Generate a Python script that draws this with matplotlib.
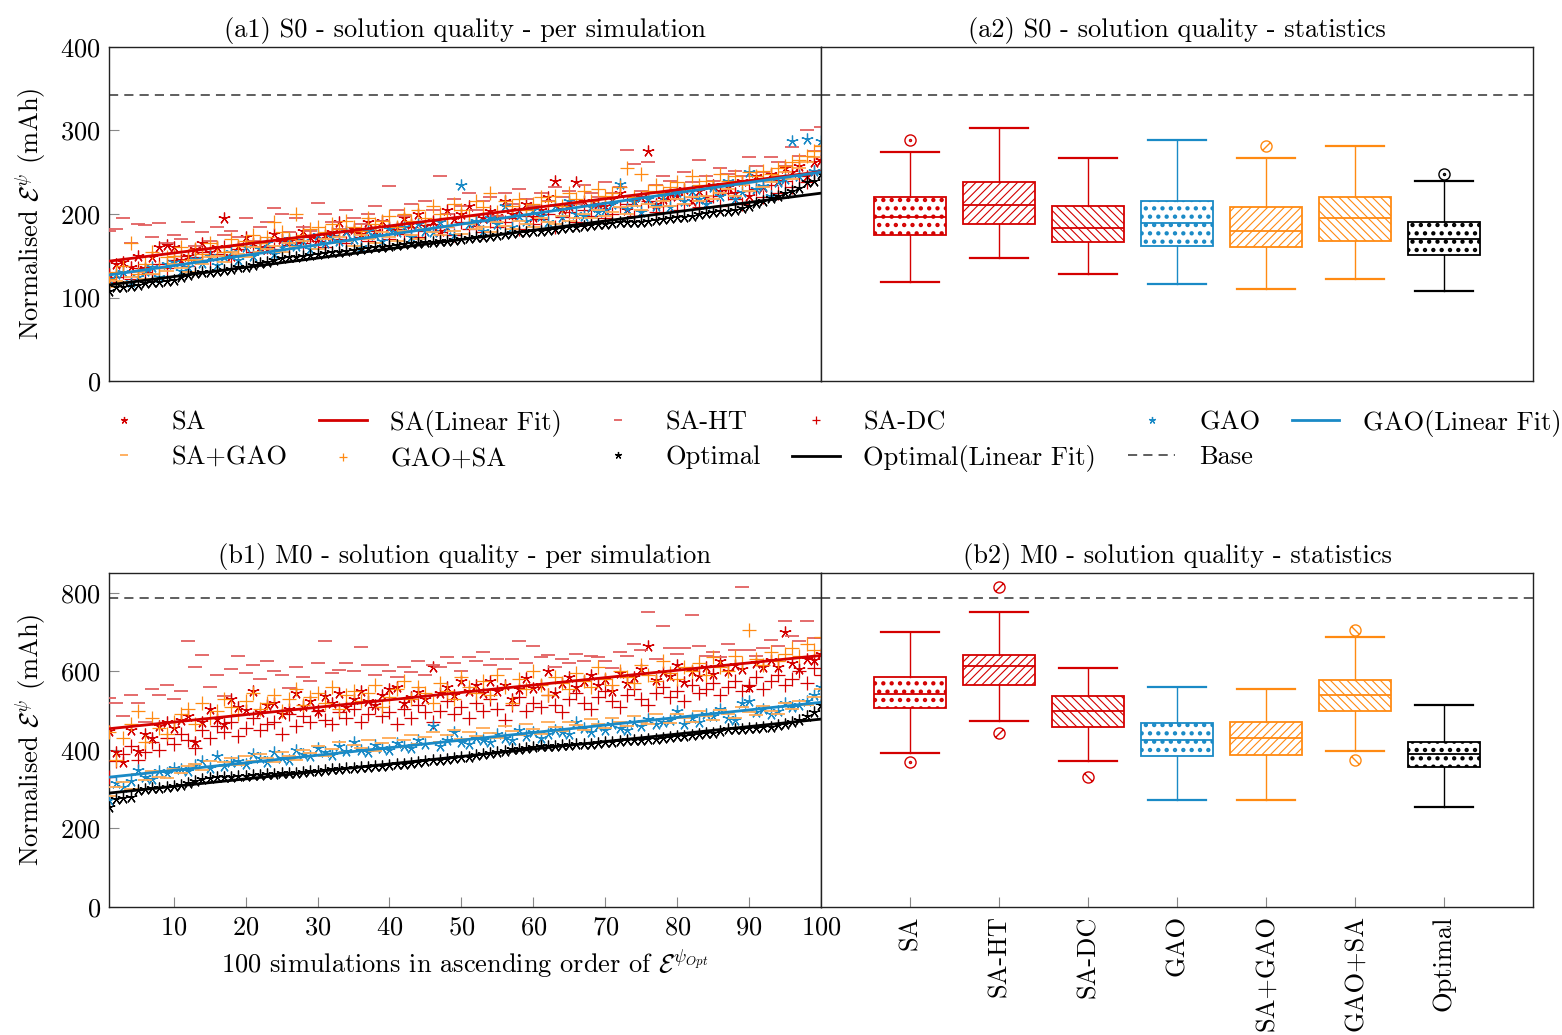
import numpy as np
import matplotlib
matplotlib.use("Agg")
import matplotlib.pyplot as plt
from matplotlib.path import Path

plt.rcParams['font.family'] = 'serif'
plt.rcParams['font.serif'] = ['cmr10']
plt.rcParams['mathtext.fontset'] = 'cm'
plt.rcParams['axes.formatter.use_mathtext'] = True
plt.rcParams['hatch.linewidth'] = 0.8

# ---------------- data ----------------
sim_idx = list(range(1, 101))

s0_sa = [128,140,142,137,150,135,148,160,163,161,145,150,158,165,155,160,195,150,162,172,
         165,160,158,176,170,168,165,180,172,170,175,178,190,180,182,176,190,180,192,185,
         184,195,188,200,186,192,180,205,194,200,210,190,195,204,198,215,200,205,212,196,
         205,220,240,206,210,238,215,208,212,210,218,225,205,215,220,275,212,218,225,222,
         230,215,228,220,235,228,232,225,240,222,245,232,248,240,255,250,258,245,262,265]
s0_sa_ht = [180,182,195,165,188,187,172,189,165,175,170,190,162,178,168,185,175,180,172,195,
            168,185,190,207,200,178,195,185,180,213,200,190,182,205,195,188,200,210,192,233,
            205,198,212,190,215,205,246,200,218,210,225,205,215,220,198,225,212,230,218,210,
            225,215,232,220,228,212,235,225,220,238,225,232,277,260,228,262,235,245,240,228,
            250,238,265,245,240,255,248,252,245,268,258,250,268,262,258,280,270,300,275,304]
s0_sa_dc = [118,125,130,122,135,130,128,140,135,145,150,138,148,155,145,152,160,150,158,162,
            155,165,160,158,168,163,170,165,172,168,160,175,170,165,178,172,168,180,175,170,
            182,176,185,172,180,188,178,184,175,190,182,186,178,192,185,190,195,182,198,188,
            194,200,185,196,202,190,205,198,210,195,200,208,212,198,205,215,202,210,218,205,
            212,220,208,215,222,210,225,218,212,228,230,220,235,225,240,232,245,238,250,268]
s0_gao = [122,128,130,118,125,132,137,124,140,143,132,137,146,141,150,139,148,155,145,160,
          150,158,165,152,160,170,162,168,158,175,165,172,168,178,170,160,180,175,168,182,
          178,185,172,188,180,178,190,185,175,235,188,192,180,195,188,210,185,198,192,205,
          198,190,210,196,215,200,198,208,202,205,212,236,206,214,202,218,210,222,208,226,
          215,228,218,212,232,222,240,218,226,250,230,234,222,238,242,288,246,290,252,288]
s0_sa_gao = [112,120,118,125,130,122,128,135,132,140,135,130,145,140,148,150,142,155,152,148,
             160,155,158,162,155,165,160,168,162,158,170,165,172,168,162,175,170,165,178,172,
             168,180,175,170,182,178,175,185,180,176,188,182,185,178,190,186,182,192,188,185,
             195,190,188,198,192,195,200,195,205,198,202,208,200,210,205,212,208,215,210,218,
             212,220,215,222,218,225,230,222,235,228,240,232,238,245,250,242,255,262,268,282]
s0_gao_sa = [122,130,138,165,128,140,155,135,148,150,160,145,158,152,165,160,155,170,162,168,
             175,165,172,190,178,170,200,175,182,185,178,188,182,192,185,180,195,188,192,198,
             185,200,192,205,195,210,200,195,212,205,198,215,208,225,202,215,210,218,205,212,
             220,215,222,210,225,218,228,215,230,222,225,232,255,220,248,228,235,225,232,238,
             230,245,235,240,232,248,240,245,238,250,245,252,248,255,258,262,265,270,275,282]
s0_opt = [108,112,113,114,115,117,118,119,120,121,124,127,129,130,131,132,133,134,136,137,
          139,141,143,145,147,148,149,150,151,152,153,154,155,156,157,158,159,160,161,162,
          163,164,165,165,166,167,168,168,169,170,171,172,173,174,175,176,177,178,179,180,
          180,181,182,183,184,185,186,187,188,188,189,190,190,191,191,192,193,194,195,196,
          197,198,200,201,202,203,204,205,207,209,213,216,219,222,225,228,231,238,240,248]
s0_base = 342

m0_sa = [447,395,370,450,398,440,430,460,470,455,475,485,420,470,505,478,465,530,510,502,
         550,495,515,520,490,505,545,512,525,500,538,520,545,510,530,550,525,515,540,555,
         560,520,535,548,530,610,545,560,540,575,550,565,545,575,550,565,530,555,582,558,
         565,600,545,570,585,560,575,590,565,580,550,595,570,585,605,665,578,598,588,615,
         572,600,588,610,592,625,600,615,605,560,622,610,628,612,700,622,605,632,628,645]
m0_sa_ht = [532,520,485,540,519,472,555,540,566,530,549,676,611,642,560,590,536,605,640,595,
            616,580,625,600,590,557,610,585,574,620,678,595,602,622,600,661,615,590,615,600,
            585,610,598,625,590,615,610,636,620,600,636,625,648,615,630,605,632,676,620,665,
            635,642,610,631,620,645,625,640,635,625,608,650,640,670,655,750,630,716,660,645,
            659,743,665,640,650,635,670,655,814,654,640,660,680,665,729,690,676,729,684,684]
m0_sa_dc = [332,372,390,410,375,395,420,400,430,415,440,425,405,450,430,460,445,470,435,455,
            480,450,465,470,440,490,460,485,470,500,475,465,495,480,505,470,490,510,485,495,
            465,505,480,515,495,470,500,525,490,510,480,520,500,530,505,475,515,535,500,520,
            510,540,515,495,530,545,520,505,535,550,525,510,540,555,530,515,545,560,535,550,
            525,565,545,555,570,540,560,575,550,565,585,555,575,590,565,580,600,570,608,590]
m0_gao = [273,315,305,320,349,330,325,345,340,355,350,345,362,372,355,385,360,370,372,365,
          390,378,370,395,380,375,400,390,385,405,395,388,410,398,420,400,395,412,405,400,
          418,410,405,425,415,460,410,425,445,420,415,430,425,420,440,430,425,450,435,445,
          430,440,450,445,440,470,455,445,460,450,465,455,450,470,460,478,465,470,475,500,
          465,480,470,490,485,505,480,475,520,525,495,505,490,500,520,510,515,525,540,560]
m0_sa_gao = [282,305,318,300,338,322,345,332,328,350,342,358,365,348,372,360,368,380,362,385,
             372,390,378,368,395,385,375,400,392,410,385,402,420,395,412,405,425,398,418,430,
             408,425,438,415,432,445,420,438,450,428,445,435,455,442,430,460,448,438,465,452,
             440,470,458,448,472,462,450,478,465,455,482,470,460,485,472,465,490,478,468,492,
             482,472,498,485,475,502,490,480,508,495,488,512,500,492,518,505,525,515,535,556]
m0_gao_sa = [445,374,430,465,500,420,480,455,440,470,490,505,465,520,480,500,530,510,490,525,
             545,505,520,540,500,530,555,515,535,545,520,560,505,540,550,525,545,565,510,535,
             555,575,530,560,545,520,570,550,530,585,560,545,575,540,590,560,520,580,555,600,
             565,540,585,570,555,595,575,560,610,580,565,600,585,570,615,590,575,625,595,580,
             610,600,620,590,635,610,600,640,620,705,630,615,650,625,645,660,640,670,655,687]
m0_opt = [254,275,278,280,298,300,302,303,305,307,310,315,320,325,328,330,331,332,333,334,
          335,336,338,339,340,341,342,344,345,347,348,350,351,353,354,356,357,359,360,362,
          363,365,367,369,371,373,375,377,379,381,383,386,389,392,395,398,401,403,405,408,
          409,410,411,412,413,414,415,416,418,420,421,422,424,425,426,427,428,430,432,434,
          436,438,440,442,443,447,452,453,454,455,456,457,459,462,465,470,475,485,495,515]
m0_base = 786

# box-plot statistics (whislo, q1, med, q3, whishi) and outliers
box_labels = ["SA", "SA-HT", "SA-DC", "GAO", "SA+GAO", "GAO+SA", "Optimal"]
s0_whislo = [118, 147, 128, 116, 110, 122, 108]
s0_q1 = [175, 188, 167, 162, 160, 168, 151]
s0_med = [197, 211, 183, 189, 180, 195, 170]
s0_q3 = [220, 238, 210, 215, 208, 220, 190]
s0_whishi = [274, 303, 267, 289, 267, 281, 239]
s0_fliers = [[289], [], [], [], [282], [], [248]]

m0_whislo = [392, 473, 371, 273, 273, 396, 255]
m0_q1 = [506, 566, 457, 385, 386, 500, 356]
m0_med = [541, 613, 500, 426, 429, 539, 389]
m0_q3 = [586, 641, 538, 469, 472, 577, 421]
m0_whishi = [699, 750, 608, 560, 556, 687, 515]
m0_fliers = [[369], [814, 442], [332], [], [], [704, 374], []]

# ---------------- styles ----------------
RED = '#d40000'
RED_L = '#e26060'
BLUE = '#1a8ac6'
ORANGE = '#ff8a12'
ORANGE_L = '#ffaa55'
STAR = (5, 2, 0)

box_colors = [RED, RED, RED, BLUE, ORANGE, ORANGE, 'black']
box_hatch = ['..', '////', '\\\\\\\\', '..', '////', '\\\\\\\\', '..']

fig = plt.figure(figsize=(15.62, 10.35), dpi=100)
W, H = 1562.0, 1035.0
def rect(x0, y0, x1, y1):
    return [x0 / W, 1 - y1 / H, (x1 - x0) / W, (y1 - y0) / H]

ax_a1 = fig.add_axes(rect(109, 47, 821, 381))
ax_a2 = fig.add_axes(rect(821, 47, 1533, 381))
ax_b1 = fig.add_axes(rect(109, 573, 821, 907))
ax_b2 = fig.add_axes(rect(821, 573, 1533, 907))

FS = 19
ylab = r'Normalised $\mathcal{E}^{\psi}$ (mAh)'

def scatter_panel(ax, sa, saht, sadc, gao, sagao, gaosa, opt, base, ylim, yticks):
    x = np.array(sim_idx)
    ms = 8.5
    ax.plot(x, sa, ls='none', marker=STAR, ms=ms, mew=0.9, color=RED, label='SA', zorder=3)
    c = np.polyfit(x, sa, 1)
    ax.plot([x[0], x[-1]], np.polyval(c, [x[0], x[-1]]), color=RED, lw=2.0, label='SA(Linear Fit)', zorder=5)
    ax.plot(x, saht, ls='none', marker='_', ms=ms + 1, mew=1.3, color=RED_L, label='SA-HT', zorder=3)
    ax.plot(x, sadc, ls='none', marker='+', ms=ms + 1, mew=0.9, color=RED, label='SA-DC', zorder=3)
    ax.plot(x, gao, ls='none', marker=STAR, ms=ms, mew=0.9, color=BLUE, label='GAO', zorder=3)
    c = np.polyfit(x, gao, 1)
    ax.plot([x[0], x[-1]], np.polyval(c, [x[0], x[-1]]), color=BLUE, lw=2.0, label='GAO(Linear Fit)', zorder=5)
    ax.plot(x, sagao, ls='none', marker='_', ms=ms + 1, mew=1.3, color=ORANGE_L, label='SA+GAO', zorder=3)
    ax.plot(x, gaosa, ls='none', marker='+', ms=ms + 1, mew=0.9, color=ORANGE, label='GAO+SA', zorder=3)
    ax.plot(x, opt, ls='none', marker=STAR, ms=ms, mew=0.9, color='black', label='Optimal', zorder=4)
    c = np.polyfit(x, opt, 1)
    ax.plot([x[0], x[-1]], np.polyval(c, [x[0], x[-1]]), color='black', lw=2.0, label='Optimal(Linear Fit)', zorder=5)
    ax.axhline(base, color='#333333', lw=1.1, ls=(0, (6, 4)), label='Base', zorder=2)
    ax.set_xlim(1, 100)
    ax.set_ylim(*ylim)
    ax.set_yticks(yticks)
    ax.set_ylabel(ylab, fontsize=FS, labelpad=9)

def circ_marker(kind):
    circle = Path.unit_circle()
    if kind == '..':
        inner = Path(Path.unit_circle().vertices * 0.18, Path.unit_circle().codes)
    elif kind.startswith('/'):
        inner = Path([[-0.7, -0.7], [0.7, 0.7]], [Path.MOVETO, Path.LINETO])
    else:
        inner = Path([[-0.7, 0.7], [0.7, -0.7]], [Path.MOVETO, Path.LINETO])
    return Path.make_compound_path(circle, inner)

def box_panel(ax, whislo, q1, med, q3, whishi, fliers, base, ylim):
    stats = []
    for i in range(len(box_labels)):
        stats.append(dict(label=box_labels[i], whislo=whislo[i], q1=q1[i], med=med[i],
                          q3=q3[i], whishi=whishi[i], fliers=[]))
    for i, st in enumerate(stats):
        col = box_colors[i]
        res = ax.bxp([st], positions=[i + 1], widths=0.8, capwidths=0.66, patch_artist=True,
                     showfliers=False,
                     boxprops=dict(facecolor='white', edgecolor=col, linewidth=1.3, hatch=box_hatch[i]),
                     medianprops=dict(color=col, linewidth=1.3),
                     whiskerprops=dict(color=col, linewidth=1.0),
                     capprops=dict(color=col, linewidth=1.6))
        box = res['boxes'][0]
        if hasattr(box, 'set_hatch_linewidth'):
            box.set_hatch_linewidth(1.9 if box_hatch[i] == '..' else 0.8)
        if fliers[i]:
            ax.plot([i + 1] * len(fliers[i]), fliers[i], ls='none', marker=circ_marker(box_hatch[i]),
                    ms=8, mew=1.0, mfc='none', mec=col)
    ax.axhline(base, color='#333333', lw=1.1, ls=(0, (6, 4)), zorder=2)
    ax.set_xlim(0, 8)
    ax.set_ylim(*ylim)
    ax.set_xticks(range(1, len(box_labels) + 1))

scatter_panel(ax_a1, s0_sa, s0_sa_ht, s0_sa_dc, s0_gao, s0_sa_gao, s0_gao_sa, s0_opt, s0_base,
              (0, 400), [0, 100, 200, 300, 400])
scatter_panel(ax_b1, m0_sa, m0_sa_ht, m0_sa_dc, m0_gao, m0_sa_gao, m0_gao_sa, m0_opt, m0_base,
              (0, 850), [0, 200, 400, 600, 800])
box_panel(ax_a2, s0_whislo, s0_q1, s0_med, s0_q3, s0_whishi, s0_fliers, s0_base, (0, 400))
box_panel(ax_b2, m0_whislo, m0_q1, m0_med, m0_q3, m0_whishi, m0_fliers, m0_base, (0, 850))

for ax in (ax_a1, ax_a2, ax_b1, ax_b2):
    ax.tick_params(direction='in', length=7, width=0.8, color='#888888', labelsize=FS, pad=6)
    for s in ax.spines.values():
        s.set_color('#222222')
        s.set_linewidth(1.0)

ax_a1.tick_params(axis='x', bottom=False, labelbottom=False)
ax_a2.tick_params(axis='x', bottom=False, labelbottom=False)
ax_a2.tick_params(axis='y', left=False, labelleft=False)
ax_b2.tick_params(axis='y', left=False, labelleft=False)
ax_b1.set_xticks([10, 20, 30, 40, 50, 60, 70, 80, 90, 100])
ax_b2.set_xticklabels(box_labels, rotation=90)
ax_b1.set_xlabel(r'100 simulations in ascending order of $\mathcal{E}^{\psi_{Opt}}$', fontsize=FS, labelpad=6)

ax_a1.set_title('(a1) S0 - solution quality - per simulation', fontsize=FS, pad=7)
ax_a2.set_title('(a2) S0 - solution quality - statistics', fontsize=FS, pad=7)
ax_b1.set_title('(b1) M0 - solution quality - per simulation', fontsize=FS, pad=7)
ax_b2.set_title('(b2) M0 - solution quality - statistics', fontsize=FS, pad=7)

# legend (row-wise order arranged for column-major fill)
handles, labels = ax_a1.get_legend_handles_labels()
lab2h = dict(zip(labels, handles))
order = ['SA', 'SA+GAO', 'SA(Linear Fit)', 'GAO+SA', 'SA-HT', 'Optimal', 'SA-DC',
         'Optimal(Linear Fit)', 'GAO', 'Base', 'GAO(Linear Fit)']
fig.legend([lab2h[k] for k in order], order, loc='center', bbox_to_anchor=(831 / W, 1 - 441 / H),
           ncol=6, frameon=False, fontsize=FS, markerscale=0.6, handlelength=1.8,
           handletextpad=0.9, columnspacing=1.2, labelspacing=0.4)

fig.savefig('out.png', dpi=100)
